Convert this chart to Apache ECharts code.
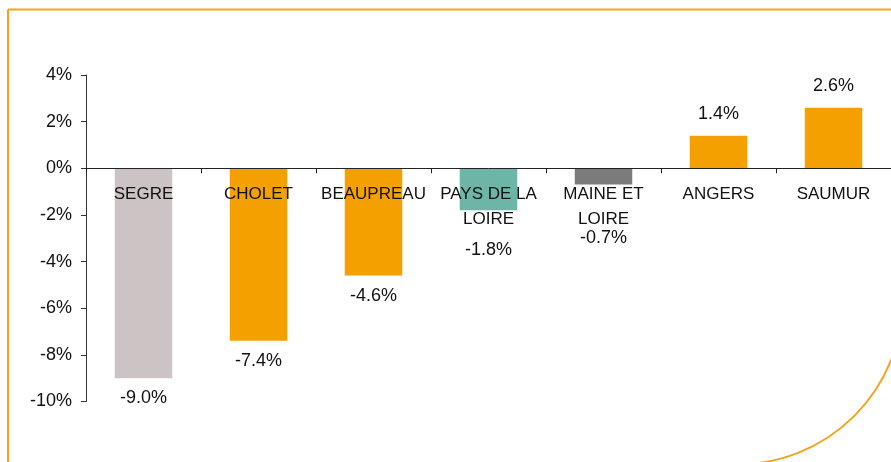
<!DOCTYPE html>
<html>
<head>
<meta charset="utf-8">
<script src="https://cdn.jsdelivr.net/npm/echarts@6/dist/echarts.min.js"></script>
<style>
html,body{margin:0;padding:0;background:#fff;}
#c{width:891px;height:462px;}
</style>
</head>
<body>
<div id="c"></div>
<script>
const categories = ['SEGRE', 'CHOLET', 'BEAUPREAU', 'PAYS DE LA\nLOIRE', 'MAINE ET\nLOIRE', 'ANGERS', 'SAUMUR'];
const values = [-9.0, -7.4, -4.6, -1.8, -0.7, 1.4, 2.6];
const yTicks = { min: -10, max: 4, step: 2 };

const barColors = ['#CCC4C4', '#F4A000', '#F4A000', '#6DB5A6', '#7A7C7A', '#F4A000', '#F4A000'];
const labelGaps = [11, 11, 11, 31, 44, 13, 13];

const FONT = "'Liberation Sans', Arial, sans-serif";
const chart = echarts.init(document.getElementById('c'), null, { renderer: 'canvas' });

const gridTop = 75, gridBottom = 60.5, H = 462;
const plotH = H - gridTop - gridBottom;
const zeroOffset = -plotH * (0 - yTicks.min) / (yTicks.max - yTicks.min);

chart.setOption({
  animation: false,
  backgroundColor: '#fff',
  graphic: [{
    type: 'rect',
    z: 100,
    shape: { x: 8, y: 9.5, width: 895, height: 455, r: [0, 0, 166, 0] },
    style: { fill: 'none', stroke: '#F4A31C', lineWidth: 2 }
  }],
  grid: { left: 86, right: 0, top: gridTop, bottom: gridBottom, containLabel: false, outerBoundsMode: 'none' },
  xAxis: {
    type: 'category',
    data: categories,
    z: 5,
    position: 'bottom',
    offset: zeroOffset,
    axisLine: { onZero: false, lineStyle: { color: '#222', width: 1 } },
    axisTick: { show: true, length: 5, alignWithLabel: false, lineStyle: { color: '#222' } },
    axisLabel: {
      interval: 0, margin: 14, color: '#111', fontSize: 17, fontFamily: FONT, lineHeight: 25
    },
    splitLine: { show: false }
  },
  yAxis: {
    type: 'value',
    min: yTicks.min, max: yTicks.max, interval: yTicks.step,
    axisLine: { show: true, lineStyle: { color: '#333', width: 1 } },
    axisTick: { show: true, length: 5, lineStyle: { color: '#333' } },
    axisLabel: { formatter: '{value}%', color: '#111', fontSize: 18, fontFamily: FONT, margin: 14 },
    splitLine: { show: false }
  },
  series: [{
    type: 'bar',
    barCategoryGap: '50%',
    data: values.map((v, i) => ({
      value: v,
      itemStyle: { color: barColors[i] },
      label: { position: v < 0 ? 'bottom' : 'top', distance: labelGaps[i] }
    })),
    label: {
      show: true,
      color: '#111',
      fontSize: 18,
      fontFamily: FONT,
      formatter: p => p.value.toFixed(1) + '%'
    }
  }]
});
</script>
</body>
</html>
